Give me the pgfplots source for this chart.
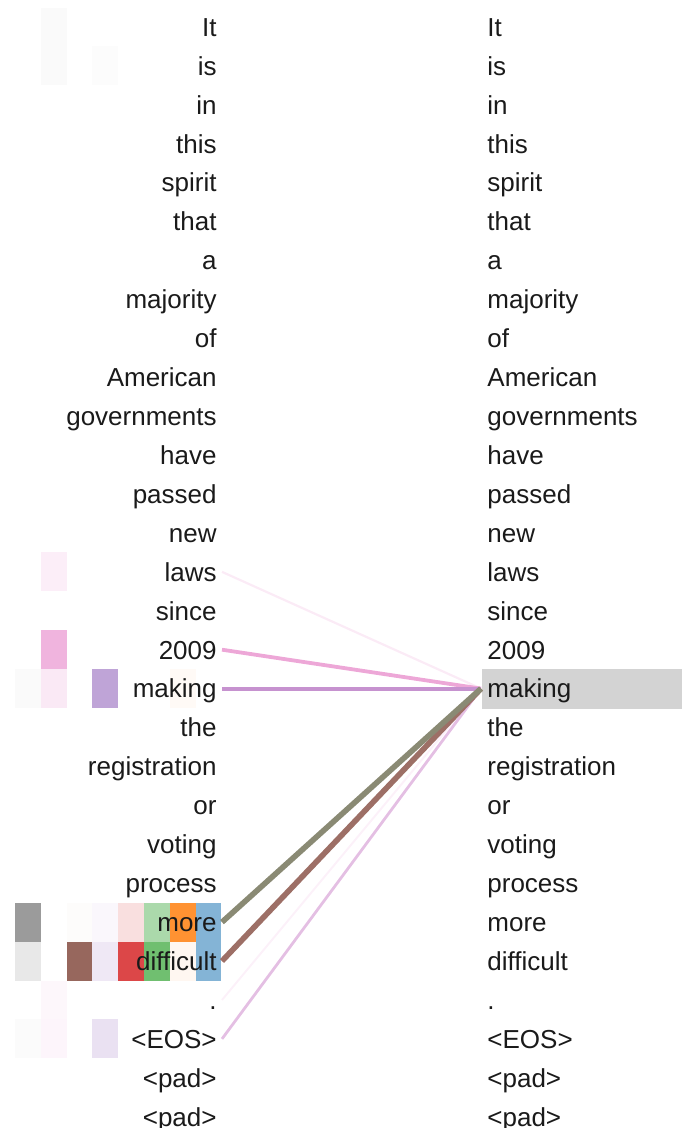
\documentclass[border=0pt]{standalone}
\usepackage{fontspec}
\setmainfont{Liberation Sans}
\usepackage{pgfplots}
\pgfplotsset{compat=1.18}
\definecolor{hgray}{HTML}{7F7F7F}
\definecolor{hpink}{HTML}{E377C2}
\definecolor{hbrown}{HTML}{8C564B}
\definecolor{hpurple}{HTML}{9467BD}
\definecolor{hred}{HTML}{D62728}
\definecolor{hgreen}{HTML}{2CA02C}
\definecolor{horange}{HTML}{FF7F0E}
\definecolor{hblue}{HTML}{1F77B4}
\definecolor{hilite}{HTML}{D3D3D3}
\definecolor{tok}{HTML}{1A1A1A}
\tikzset{
  ltok/.style={anchor=east, inner sep=0pt, text height=9.3pt, text depth=0pt, text=tok, font=\fontsize{13}{15}\selectfont},
  rtok/.style={anchor=west, inner sep=0pt, text height=9.3pt, text depth=0pt, text=tok, font=\fontsize{13}{15}\selectfont}}
% square: xleft, xright, row-top, row-bottom, colour, opacity
\newcommand{\sq}[6]{\addplot[draw=none,fill=#5,fill opacity=#6] coordinates {(#1,#3) (#2,#3) (#2,#4) (#1,#4)} -- cycle;}
\begin{document}
\begin{tikzpicture}
\begin{axis}[scale only axis, width=341pt, height=564pt,
  xmin=0, xmax=682, ymin=-0.694, ymax=28.29, y dir=reverse,
  hide axis, clip=false]
% highlight of the query token
\addplot[draw=none, fill=hilite] coordinates {(482,16.5) (682,16.5) (682,17.52) (482,17.52)} -- cycle;
% head 0 (gray)
\sq{15}{40.8}{22.5}{23.5}{hgray}{0.78}
\sq{15}{40.8}{23.5}{24.5}{hgray}{0.18}
\sq{15}{40.8}{16.5}{17.5}{hgray}{0.04}
\sq{15}{40.8}{25.5}{26.5}{hgray}{0.03}
% head 1 (pink)
\sq{40.8}{66.6}{-0.5}{0.5}{hgray}{0.04}
\sq{40.8}{66.6}{0.5}{1.5}{hgray}{0.04}
\sq{40.8}{66.6}{13.5}{14.5}{hpink}{0.12}
\sq{40.8}{66.6}{15.5}{16.5}{hpink}{0.55}
\sq{40.8}{66.6}{16.5}{17.5}{hpink}{0.16}
\sq{40.8}{66.6}{24.5}{25.5}{hpink}{0.06}
\sq{40.8}{66.6}{25.5}{26.5}{hpink}{0.07}
% head 2 (brown)
\sq{66.6}{92.4}{23.5}{24.5}{hbrown}{0.9}
\sq{66.6}{92.4}{22.5}{23.5}{hbrown}{0.02}
% head 3 (purple)
\sq{92.4}{118.2}{0.5}{1.5}{hgray}{0.025}
\sq{92.4}{118.2}{16.5}{17.5}{hpurple}{0.6}
\sq{92.4}{118.2}{22.5}{23.5}{hpurple}{0.05}
\sq{92.4}{118.2}{23.5}{24.5}{hpurple}{0.15}
\sq{92.4}{118.2}{25.5}{26.5}{hpurple}{0.2}
% head 4 (red)
\sq{118.2}{144}{22.5}{23.5}{hred}{0.15}
\sq{118.2}{144}{23.5}{24.5}{hred}{0.85}
% head 5 (green)
\sq{144}{169.8}{22.5}{23.5}{hgreen}{0.4}
\sq{144}{169.8}{23.5}{24.5}{hgreen}{0.68}
% head 6 (orange)
\sq{169.8}{195.6}{22.5}{23.5}{horange}{0.85}
\sq{169.8}{195.6}{23.5}{24.5}{horange}{0.06}
\sq{169.8}{195.6}{16.5}{17.5}{horange}{0.04}
% head 7 (blue)
\sq{195.6}{221.4}{22.5}{23.5}{hblue}{0.55}
\sq{195.6}{221.4}{23.5}{24.5}{hblue}{0.55}
% attention lines
\addplot[color=hpink!15, line width=1.1pt] coordinates {(222,14) (481,17)};
\addplot[color=hpink!10, line width=1pt] coordinates {(222,25) (481,17)};
\addplot[color=hpurple!40!hpink!45, line width=1.4pt] coordinates {(222,26) (481,17)};
\addplot[color=hpink!65, line width=1.9pt] coordinates {(222,16) (481,17)};
\addplot[color=hpurple!60!hpink!75, line width=2.1pt] coordinates {(222,17) (481,17)};
\addplot[color=hbrown!85!white, line width=2.8pt] coordinates {(222,24) (481,17)};
\addplot[color={rgb,255:red,138;green,138;blue,116}, line width=2.8pt] coordinates {(222,23) (481,17)};
% source tokens
\node[ltok] at (217,0) {It};
\node[ltok] at (217,1) {is};
\node[ltok] at (217,2) {in};
\node[ltok] at (217,3) {this};
\node[ltok] at (217,4) {spirit};
\node[ltok] at (217,5) {that};
\node[ltok] at (217,6) {a};
\node[ltok] at (217,7) {majority};
\node[ltok] at (217,8) {of};
\node[ltok] at (217,9) {American};
\node[ltok] at (217,10) {governments};
\node[ltok] at (217,11) {have};
\node[ltok] at (217,12) {passed};
\node[ltok] at (217,13) {new};
\node[ltok] at (217,14) {laws};
\node[ltok] at (217,15) {since};
\node[ltok] at (217,16) {2009};
\node[ltok] at (217,17) {making};
\node[ltok] at (217,18) {the};
\node[ltok] at (217,19) {registration};
\node[ltok] at (217,20) {or};
\node[ltok] at (217,21) {voting};
\node[ltok] at (217,22) {process};
\node[ltok] at (217,23) {more};
\node[ltok] at (217,24) {difficult};
\node[ltok] at (217,25) {.};
\node[ltok] at (217,26) {<EOS>};
\node[ltok] at (217,27) {<pad>};
\node[ltok] at (217,28) {<pad>};
% target tokens
\node[rtok] at (487,0) {It};
\node[rtok] at (487,1) {is};
\node[rtok] at (487,2) {in};
\node[rtok] at (487,3) {this};
\node[rtok] at (487,4) {spirit};
\node[rtok] at (487,5) {that};
\node[rtok] at (487,6) {a};
\node[rtok] at (487,7) {majority};
\node[rtok] at (487,8) {of};
\node[rtok] at (487,9) {American};
\node[rtok] at (487,10) {governments};
\node[rtok] at (487,11) {have};
\node[rtok] at (487,12) {passed};
\node[rtok] at (487,13) {new};
\node[rtok] at (487,14) {laws};
\node[rtok] at (487,15) {since};
\node[rtok] at (487,16) {2009};
\node[rtok] at (487,17) {making};
\node[rtok] at (487,18) {the};
\node[rtok] at (487,19) {registration};
\node[rtok] at (487,20) {or};
\node[rtok] at (487,21) {voting};
\node[rtok] at (487,22) {process};
\node[rtok] at (487,23) {more};
\node[rtok] at (487,24) {difficult};
\node[rtok] at (487,25) {.};
\node[rtok] at (487,26) {<EOS>};
\node[rtok] at (487,27) {<pad>};
\node[rtok] at (487,28) {<pad>};
\end{axis}
\pgfresetboundingbox
\path[use as bounding box] (current axis.south west) rectangle (current axis.north east);
\end{tikzpicture}
\end{document}
